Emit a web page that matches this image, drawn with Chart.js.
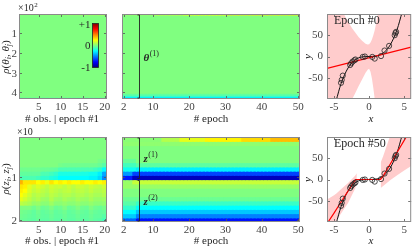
<!DOCTYPE html>
<html>
<head>
<meta charset="utf-8">
<script src="https://cdn.jsdelivr.net/npm/chart.js@4.4.1/dist/chart.umd.min.js"></script>
<style>
  html, body { margin: 0; padding: 0; background: #fff; }
  #fig { position: relative; width: 416px; height: 246px; overflow: hidden; }
  #fig canvas { position: absolute; }
</style>
</head>
<body>
<div id="fig"></div>
<script>
// ---------------- data ----------------
const obsCols = [1, 2, 3, 4, 5, 6, 7, 8, 9, 10, 11, 12, 13, 14, 15, 16, 17, 18, 19, 20];
const epochCols = [2, 3, 4, 5, 6, 7, 8, 9, 10, 11, 12, 13, 14, 15, 16, 17, 18, 19, 20, 21, 22, 23, 24, 25, 26,
  27, 28, 29, 30, 31, 32, 33, 34, 35, 36, 37, 38, 39, 40, 41, 42, 43, 44, 45, 46, 47, 48, 49, 50];

const obsTicks = [5, 10, 15, 20];
const epochTicks = [2, 10, 20, 30, 40, 50];
const thetaTicks = [100, 200, 300, 400];   // shown as 1..4 (x10^2)
const zTicks = [10, 20];                   // shown as 1, 2 (x10)
const fitXTicks = [-5, 0, 5];
const fitYTicks = [-50, 0, 50];

// theta correlations, epoch #1 (row bands of parameter index, one value per observation)
const thetaObsEdges = [0.5, 3.5, 425.5, 431.5, 435.5];
const thetaObsRho = [
  [0.03, 0.03, 0.03, 0.03, 0.03, 0.05, 0.05, 0.05, 0.05, 0.08, 0.08, 0.1, 0.1, 0.12, 0.12, 0.15, 0.15, 0.15, 0.18, 0.18],
  [0, 0, 0, 0, 0, 0, 0, 0, 0, 0, 0, 0, 0, 0, 0, 0, 0, 0, 0, 0],
  [-0.1, -0.1, -0.1, -0.1, -0.1, -0.1, -0.1, -0.1, -0.1, -0.1, -0.1, -0.1, -0.1, -0.1, -0.1, -0.1, -0.1, -0.1, -0.1, -0.1],
  [-0.25, -0.25, -0.25, -0.25, -0.25, -0.25, -0.25, -0.25, -0.25, -0.25, -0.25, -0.25, -0.25, -0.25, -0.25, -0.25, -0.25, -0.25, -0.25, -0.25],
];

// theta correlations over epochs (runs of [fromEpoch, toEpoch, rho])
const thetaEpochEdges = [0.5, 4.5, 405.5, 415.5, 422.5, 428.5, 432.5, 435.5];
const thetaEpochRuns = [
  [[2, 10, 0.05], [11, 18, 0.15], [19, 30, 0.25], [31, 50, 0.3]],
  [[2, 50, 0]],
  [[2, 50, -0.06]],
  [[2, 50, -0.15]],
  [[2, 50, -0.27]],
  [[2, 50, -0.42]],
  [[2, 50, -0.75]],
];

// latent z correlations, epoch #1 (20 rows x 20 observations)
const zObsRho = [
  [0, 0, 0, 0, 0, 0, 0, 0, 0, 0, 0, 0, 0, 0, 0, 0, 0, 0, 0, 0],
  [0, 0, 0, 0, 0, 0, 0, 0, 0, 0, 0, 0, 0, 0, 0, 0, 0, 0, 0, 0],
  [0, 0, 0, 0, 0, 0, 0, 0, 0, 0, 0, 0, 0, 0, 0, 0, 0, 0, 0, 0],
  [0, 0, 0, 0, 0, 0, 0, 0, 0, 0, 0, 0, 0, 0, 0, 0, 0, 0, 0, 0],
  [0, 0, 0, 0, 0, 0, 0, 0, 0, 0, 0, 0, 0, 0, 0, 0, 0, 0, 0, 0],
  [0, 0, 0, 0, 0, 0, 0, 0, 0, 0, 0, 0, 0, 0, 0, 0, 0, 0, -0.02, -0.03],
  [0, 0, 0, 0, 0, 0, 0, 0, 0, -0.02, -0.03, -0.03, -0.03, -0.03, -0.03, -0.03, -0.03, -0.03, -0.05, -0.08],
  [-0.03, -0.03, -0.03, -0.03, -0.03, -0.04, -0.04, -0.05, -0.06, -0.1, -0.1, -0.1, -0.1, -0.1, -0.1, -0.1, -0.1, -0.12, -0.15, -0.25],
  [-0.06, -0.06, -0.06, -0.06, -0.06, -0.1, -0.1, -0.12, -0.15, -0.2, -0.2, -0.2, -0.2, -0.2, -0.2, -0.2, -0.22, -0.22, -0.28, -0.42],
  [-0.1, -0.1, -0.1, -0.1, -0.12, -0.15, -0.15, -0.18, -0.2, -0.25, -0.25, -0.25, -0.25, -0.25, -0.25, -0.25, -0.27, -0.27, -0.32, -0.48],
  [0.4, 0.3, 0.3, 0.3, 0.25, 0.28, 0.22, 0.3, 0.25, 0.28, 0.25, 0.28, 0.25, 0.25, 0.28, 0.25, 0.25, 0.28, 0.25, 0.28],
  [0.3, 0.28, 0.2, 0.15, 0.18, 0.15, 0.12, 0.16, 0.14, 0.15, 0.12, 0.15, 0.12, 0.15, 0.14, 0.12, 0.15, 0.13, 0.12, 0.15],
  [0.28, 0.25, 0.18, 0.13, 0.15, 0.12, 0.1, 0.14, 0.12, 0.1, 0.12, 0.13, 0.1, 0.12, 0.12, 0.1, 0.13, 0.1, 0.1, 0.12],
  [0.25, 0.2, 0.15, 0.1, 0.12, 0.1, 0.08, 0.12, 0.1, 0.08, 0.1, 0.1, 0.08, 0.1, 0.1, 0.08, 0.1, 0.08, 0.08, 0.1],
  [0.2, 0.16, 0.12, 0.08, 0.1, 0.06, 0.05, 0.1, 0.06, 0.05, 0.08, 0.06, 0.05, 0.08, 0.06, 0.05, 0.08, 0.05, 0.05, 0.06],
  [0.12, 0.1, 0.08, 0.04, 0.05, 0.02, 0.02, 0.06, 0.02, 0.02, 0.04, 0.02, 0.02, 0.04, 0.02, 0.02, 0.04, 0.02, 0.02, 0.03],
  [0, 0, 0, -0.03, 0, -0.04, -0.03, 0, -0.04, -0.03, 0, -0.04, -0.03, 0, -0.03, -0.04, 0, -0.03, -0.04, -0.02],
  [-0.02, -0.03, -0.04, -0.06, -0.03, -0.06, -0.05, -0.03, -0.06, -0.05, -0.03, -0.06, -0.05, -0.03, -0.05, -0.06, -0.03, -0.05, -0.06, -0.05],
  [-0.03, -0.04, -0.05, -0.06, -0.04, -0.06, -0.06, -0.04, -0.06, -0.06, -0.04, -0.06, -0.06, -0.04, -0.06, -0.06, -0.04, -0.06, -0.06, -0.08],
  [-0.04, -0.05, -0.06, -0.07, -0.05, -0.07, -0.07, -0.05, -0.07, -0.07, -0.05, -0.07, -0.07, -0.05, -0.07, -0.07, -0.05, -0.07, -0.08, -0.12],
];

// latent z correlations over epochs (runs of [fromEpoch, toEpoch, rho])
const zEpochRuns = [
  [[2, 12, 0.02], [13, 17, 0.1], [18, 24, 0.2], [25, 34, 0.27], [35, 42, 0.32], [43, 50, 0.38]],
  [[2, 50, 0.03]],
  [[2, 50, 0]],
  [[2, 50, 0]],
  [[2, 50, 0]],
  [[2, 5, -0.05], [6, 50, 0]],
  [[2, 5, -0.12], [6, 50, -0.07]],
  [[2, 5, -0.22], [6, 50, -0.28]],
  [[2, 4, -0.45], [5, 50, -0.62]],
  [[2, 4, -0.7], [5, 50, -0.88]],
  [[2, 4, 0.05], [5, 50, 0.14]],
  [[2, 50, 0.05]],
  [[2, 50, 0]],
  [[2, 50, 0]],
  [[2, 50, -0.04]],
  [[2, 5, -0.08], [6, 50, -0.14]],
  [[2, 5, -0.15], [6, 50, -0.25]],
  [[2, 5, -0.25], [6, 50, -0.36]],
  [[2, 5, -0.35], [6, 50, -0.5]],
  [[2, 5, -0.55], [6, 50, -0.72]],
];

// parameter groups marked in the epoch panels
const bracketEpoch = 6.1;
const thetaGroups = [{ sym: 'θ', sup: '(1)', from: 0.5, to: 435.5 }];
const zGroups = [{ sym: 'z', sup: '(1)', from: 0.5, to: 10.5 }, { sym: 'z', sup: '(2)', from: 10.5, to: 20.5 }];

// regression panels
const obsX = [-4.0, -3.9, -3.75, -2.7, -2.55, -2.35, -2.1, -1.95, -0.9, -0.6, 0.45, 0.8, 1.7, 2.2, 2.85, 3.65, 3.75, 3.85];
const obsY = [-62, -55, -45, -20, -16, -12, -9, -7, -1, 0, -1, -5, 1, 14, 25, 50, 55, 58];
const trueX = [-4.7, -4, -3, -2, -1, 0, 1, 2, 3, 4, 4.7];
const trueY = [-104, -64, -27, -8, -1, 0, 1, 8, 27, 64, 104];

const e0LineX = [-6, 6];
const e0LineY = [-28, 22];
const e0BandX = [-6, -5, -4, -3.6, -3, -2.4, -2, -1.5, -1, -0.5, -0.2, 0, 0.2, 0.4, 0.6, 0.8, 1, 1.25, 1.5, 2, 3, 4, 5, 6];
const e0BandHi = [220, 175, 120, 100, 82, 66, 57, 46, 37, 30, 28, 29, 33, 40, 50, 62, 78, 100, 118, 150, 210, 270, 330, 390];
const e0BandLo = [-260, -210, -160, -140, -118, -100, -87, -70, -54, -38, -31, -29, -36, -52, -74, -100, -125, -150, -175, -220, -300, -380, -460, -540];

const e50LineX = [-6, -5, -4, -3, -2.2, -1.9, 1.6, 2, 3, 4, 5, 6];
const e50LineY = [-104, -79, -53, -27, -6, 0, 0, 8, 36, 64, 92, 120];
const e50LeftX = [-6, -5, -4.66, -4, -3, -2, -1.75];
const e50LeftHi = [-47, -37, -33, -23, -8, 9, 15];
const e50LeftLo = [-125, -105, -97, -80, -55, -22, -8];
const e50RightX = [1.65, 2, 3, 4, 5, 6];
const e50RightHi = [40, 55, 103, 150, 200, 250];
const e50RightLo = [-20, -15, -2, 10, 21, 32];

// ---------------- helpers ----------------
const SERIF = '"Liberation Serif", "Times New Roman", serif';
const TICK_FONT = { family: SERIF, size: 11, lineHeight: 1 };
const TICK_COLOR = '#444';
const INK = '#262626';
const FRAME = '#8a8a8a';
const PINK = 'rgba(255, 0, 0, 0.2)';
const fnt = (size, style) => `${style || ''} ${size}px ${SERIF}`;

function jet(v) {
  const t = Math.min(1, Math.max(0, (v + 1) / 2));
  const c = (k) => Math.round(255 * Math.min(1, Math.max(0, 1.5 - Math.abs(4 * t - k))));
  return `rgb(${c(3)},${c(2)},${c(1)})`;
}

function expandRuns(runs, cols) {
  return cols.map((c) => {
    const run = runs.find(([a, b]) => c >= a && c <= b);
    return run ? run[2] : 0;
  });
}

function heatDatasets(edges, cols, rows) {
  return rows.map((vals, r) => ({
    data: cols.map((c) => ({ x: c, y: [edges[r], edges[r + 1]] })),
    backgroundColor: vals.map(jet),
    borderWidth: 0,
    barPercentage: 1,
    categoryPercentage: 1,
    grouped: false,
    inflateAmount: 0.6,
  }));
}

function pts(xs, ys) {
  return xs.map((x, i) => ({ x, y: ys[i] }));
}

const fig = document.getElementById('fig');
function makeCanvas(g) {
  const c = document.createElement('canvas');
  c.width = g.cx2 - g.cx;
  c.height = g.cy2 - g.cy;
  c.style.left = g.cx + 'px';
  c.style.top = g.cy + 'px';
  c.style.width = c.width + 'px';
  c.style.height = c.height + 'px';
  fig.appendChild(c);
  return c;
}

function axis(g, dir, min, max, ticks, opts) {
  const o = opts || {};
  const s = {
    type: 'linear',
    min,
    max,
    offset: false,
    reverse: !!o.reverse,
    grid: { display: false, drawTicks: false },
    border: { display: false },
    ticks: {
      display: o.labels !== false,
      font: TICK_FONT,
      color: TICK_COLOR,
      padding: dir === 'x' ? 3 : (o.pad || 2),
      maxRotation: 0,
      autoSkip: false,
      callback: o.fmt || ((v) => String(v)),
    },
    afterBuildTicks: (sc) => { sc.ticks = ticks.map((v) => ({ value: v })); },
  };
  if (dir === 'x') s.afterFit = (sc) => { sc.height = g.cy2 - g.pb; };
  else s.afterFit = (sc) => { sc.width = g.pl - g.cx; };
  return s;
}

function richText(ctx, parts, x, y, rot) {
  ctx.save();
  ctx.translate(x, y);
  if (rot) ctx.rotate(rot);
  let w = 0;
  parts.forEach((p) => { ctx.font = p.f; w += ctx.measureText(p.t).width; });
  let cx = -w / 2;
  parts.forEach((p) => {
    ctx.font = p.f;
    ctx.fillText(p.t, cx, 4 + (p.dy || 0));
    cx += ctx.measureText(p.t).width;
  });
  ctx.restore();
}

function decor(g, draw) {
  return {
    id: 'decor',
    afterDraw(chart) {
      const ctx = chart.ctx;
      const { left, top, right, bottom } = chart.chartArea;
      const xs = chart.scales.x;
      const ys = chart.scales.y;
      ctx.save();
      ctx.strokeStyle = '#555';
      ctx.lineWidth = 0.8;
      ctx.beginPath();
      xs.ticks.forEach((t) => {
        const p = Math.round(xs.getPixelForValue(t.value)) + 0.5;
        ctx.moveTo(p, bottom); ctx.lineTo(p, bottom - 3);
        ctx.moveTo(p, top); ctx.lineTo(p, top + 3);
      });
      ys.ticks.forEach((t) => {
        const p = Math.round(ys.getPixelForValue(t.value)) + 0.5;
        ctx.moveTo(left, p); ctx.lineTo(left + 3, p);
        ctx.moveTo(right, p); ctx.lineTo(right - 3, p);
      });
      ctx.stroke();
      ctx.strokeStyle = FRAME;
      ctx.lineWidth = 1;
      ctx.strokeRect(left + 0.5, top + 0.5, right - left - 1, bottom - top - 1);
      ctx.translate(-g.cx, -g.cy);
      ctx.fillStyle = INK;
      ctx.textBaseline = 'alphabetic';
      if (draw) draw(ctx, chart, g);
      ctx.restore();
    },
  };
}

function baseOptions(g, scales) {
  return {
    responsive: false,
    animation: false,
    devicePixelRatio: 1,
    layout: { padding: { left: 0, bottom: 0, top: g.pt - g.cy, right: g.cx2 - g.pr } },
    plugins: { legend: { display: false }, tooltip: { enabled: false } },
    scales,
  };
}

function heatChart(g, datasets, xr, yr, draw) {
  new Chart(makeCanvas(g), {
    type: 'bar',
    data: { datasets },
    options: baseOptions(g, { x: xr, y: yr }),
    plugins: [decor(g, draw)],
  });
}

// y tick labels of the heatmaps, placed from the chart's own y scale
function yLabels(ctx, chart, g, fmt) {
  const ys = chart.scales.y;
  ctx.font = fnt(11);
  ctx.fillStyle = TICK_COLOR;
  ctx.textAlign = 'right';
  ys.ticks.forEach((t) => {
    ctx.fillText(fmt(t.value), g.pl - 2, ys.getPixelForValue(t.value) + g.cy + 4);
  });
  ctx.textAlign = 'left';
  ctx.fillStyle = INK;
}

function obsTitle(ctx, y) {
  ctx.font = fnt(11);
  ctx.textAlign = 'center';
  ctx.fillText('# obs. | epoch #1', 62, y);
  ctx.textAlign = 'left';
}

function rhoTitle(ctx, sym, cy) {
  richText(ctx, [
    { t: 'ρ', f: fnt(11, 'italic') }, { t: '(', f: fnt(11) },
    { t: sym, f: fnt(11, 'italic') }, { t: 'i', f: fnt(8, 'italic'), dy: 2 },
    { t: ', ', f: fnt(11) },
    { t: sym, f: fnt(11, 'italic') }, { t: 'j', f: fnt(8, 'italic'), dy: 2 },
    { t: ')', f: fnt(11) },
  ], 4.5, cy, -Math.PI / 2);
}

function exponent(ctx, x, y, p) {
  ctx.font = fnt(10);
  ctx.fillText('×10', x, y);
  if (p) {
    const w = ctx.measureText('×10').width;
    ctx.font = fnt(7);
    ctx.fillText(p, x + w + 0.5, y - 4);
  }
}

function brackets(ctx, chart, g, groups) {
  const xs = chart.scales.x;
  const ys = chart.scales.y;
  const px = Math.round(xs.getPixelForValue(bracketEpoch)) + 0.5 + g.cx;
  ctx.strokeStyle = '#222';
  ctx.lineWidth = 0.9;
  groups.forEach((gr) => {
    const y0 = ys.getPixelForValue(gr.from) + g.cy + 1;
    const y1 = ys.getPixelForValue(gr.to) + g.cy - 1;
    ctx.beginPath();
    ctx.moveTo(px - 2, y0); ctx.lineTo(px, y0); ctx.lineTo(px, y1); ctx.lineTo(px - 2, y1);
    ctx.stroke();
    const my = (y0 + y1) / 2;
    ctx.font = fnt(11, 'italic bold');
    ctx.fillText(gr.sym, px + 4, my + 4);
    const w = ctx.measureText(gr.sym).width;
    ctx.font = fnt(8);
    ctx.fillText(gr.sup, px + 4 + w + 0.5, my - 1);
  });
}

function colorbar(ctx) {
  const x = 92.5, y = 23.5, w = 6, h = 44;
  const grad = ctx.createLinearGradient(0, y, 0, y + h);
  for (let i = 0; i <= 16; i++) grad.addColorStop(i / 16, jet(1 - 2 * i / 16));
  ctx.fillStyle = grad;
  ctx.fillRect(x, y, w, h);
  ctx.strokeStyle = '#222';
  ctx.lineWidth = 0.8;
  ctx.strokeRect(x, y, w, h);
  ctx.fillStyle = INK;
  ctx.font = fnt(11);
  ctx.textAlign = 'right';
  ctx.fillText('+1', 90.5, 28);
  ctx.fillText('0', 90.5, 49);
  ctx.fillText('-1', 90.5, 71);
  ctx.textAlign = 'left';
}

function fitChart(g, bands, lineX, lineY, label) {
  const datasets = [];
  bands.forEach(([bx, hi, lo]) => {
    datasets.push({ data: pts(bx, hi), borderWidth: 0, pointRadius: 0, fill: '+1', backgroundColor: PINK, order: 5 });
    datasets.push({ data: pts(bx, lo), borderWidth: 0, pointRadius: 0, fill: false, order: 5 });
  });
  datasets.push({ data: pts(trueX, trueY), borderColor: '#111', borderWidth: 1, pointRadius: 0, cubicInterpolationMode: 'monotone', order: 3 });
  datasets.push({ data: pts(lineX, lineY), borderColor: '#ff0000', borderWidth: 1.2, pointRadius: 0, order: 2 });
  datasets.push({ data: pts(obsX, obsY), showLine: false, pointRadius: 2.6, pointStyle: 'circle', borderColor: '#222', borderWidth: 0.8, backgroundColor: 'rgba(0,0,0,0)', order: 1 });
  new Chart(makeCanvas(g), {
    type: 'line',
    data: { datasets },
    options: baseOptions(g, {
      x: axis(g, 'x', -6, 6, fitXTicks),
      y: axis(g, 'y', -100, 100, fitYTicks, { pad: 4 }),
    }),
    plugins: [decor(g, (ctx) => {
      ctx.font = fnt(12);
      ctx.fillText(label, 334, g.pt + 10);
      ctx.textAlign = 'center';
      ctx.font = fnt(11, 'italic');
      ctx.fillText('x', 371, g.cy2 - 2);
      ctx.textAlign = 'left';
      richText(ctx, [{ t: 'y', f: fnt(11, 'italic') }], 307, (g.pt + g.pb) / 2, -Math.PI / 2);
    })],
  });
}

// ---------------- panels (page pixel boxes) ----------------
const panels = {
  thetaObs:   { cx: 0,   cy: 0,   cx2: 115, cy2: 124, pl: 19,  pt: 14,  pr: 107, pb: 99 },
  thetaEpoch: { cx: 114, cy: 0,   cx2: 308, cy2: 124, pl: 122, pt: 14,  pr: 300, pb: 99 },
  fit0:       { cx: 300, cy: 0,   cx2: 416, cy2: 124, pl: 327, pt: 14,  pr: 415, pb: 99 },
  zObs:       { cx: 0,   cy: 124, cx2: 115, cy2: 246, pl: 19,  pt: 137, pr: 107, pb: 222 },
  zEpoch:     { cx: 114, cy: 124, cx2: 308, cy2: 246, pl: 122, pt: 137, pr: 300, pb: 222 },
  fit50:      { cx: 300, cy: 124, cx2: 416, cy2: 246, pl: 327, pt: 137, pr: 415, pb: 222 },
};
const zEdges = zObsRho.map((_, i) => i + 0.5).concat([zObsRho.length + 0.5]);

// theta / epoch #1
(() => {
  const g = panels.thetaObs;
  heatChart(g, heatDatasets(thetaObsEdges, obsCols, thetaObsRho),
    axis(g, 'x', 0.5, 20.5, obsTicks),
    axis(g, 'y', 0.5, 435.5, thetaTicks, { reverse: true, labels: false }),
    (ctx, chart) => {
      colorbar(ctx);
      rhoTitle(ctx, 'θ', 57);
      yLabels(ctx, chart, g, (v) => String(v / 100));
      exponent(ctx, 18, 11, '2');
      obsTitle(ctx, 122);
    });
})();

// theta / epochs
(() => {
  const g = panels.thetaEpoch;
  heatChart(g, heatDatasets(thetaEpochEdges, epochCols, thetaEpochRuns.map((r) => expandRuns(r, epochCols))),
    axis(g, 'x', 1.5, 50.5, epochTicks),
    axis(g, 'y', 0.5, 435.5, thetaTicks, { reverse: true, labels: false }),
    (ctx, chart) => {
      brackets(ctx, chart, g, thetaGroups);
      ctx.font = fnt(11);
      ctx.textAlign = 'center';
      ctx.fillText('# epoch', 211, 122);
      ctx.textAlign = 'left';
    });
})();

// z / epoch #1
(() => {
  const g = panels.zObs;
  heatChart(g, heatDatasets(zEdges, obsCols, zObsRho),
    axis(g, 'x', 0.5, 20.5, obsTicks),
    axis(g, 'y', 0.5, 20.5, zTicks, { reverse: true, labels: false }),
    (ctx, chart) => {
      rhoTitle(ctx, 'z', 179);
      yLabels(ctx, chart, g, (v) => String(v / 10));
      exponent(ctx, 17, 135, '');
      obsTitle(ctx, 244);
    });
})();

// z / epochs
(() => {
  const g = panels.zEpoch;
  heatChart(g, heatDatasets(zEdges, epochCols, zEpochRuns.map((r) => expandRuns(r, epochCols))),
    axis(g, 'x', 1.5, 50.5, epochTicks),
    axis(g, 'y', 0.5, 20.5, zTicks, { reverse: true, labels: false }),
    (ctx, chart) => {
      brackets(ctx, chart, g, zGroups);
      ctx.font = fnt(11);
      ctx.textAlign = 'center';
      ctx.fillText('# epoch', 211, 244);
      ctx.textAlign = 'left';
    });
})();

fitChart(panels.fit0, [[e0BandX, e0BandHi, e0BandLo]], e0LineX, e0LineY, 'Epoch #0');
fitChart(panels.fit50, [[e50LeftX, e50LeftHi, e50LeftLo], [e50RightX, e50RightHi, e50RightLo]], e50LineX, e50LineY, 'Epoch #50');
</script>
</body>
</html>
